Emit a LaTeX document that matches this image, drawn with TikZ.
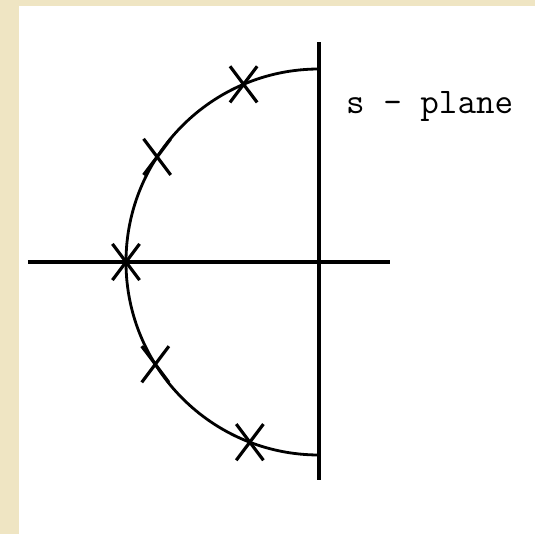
\documentclass[tikz,border=0pt]{standalone}
\usepackage{fontspec}
\definecolor{PaperBeige}{HTML}{EFE5C3}
\usetikzlibrary{shapes.misc, positioning}

\begin{document}
\begin{tikzpicture}[
      pole/.style={draw, cross out, line width=1.8pt, inner sep=0pt,
         minimum width=0.48cm, minimum height=0.66cm}
   ]
   % Page: beige margin and white sheet
   \fill[PaperBeige] (-6.38,-5.44) rectangle (4.32,5.24);
   \fill[white] (-6.0,-5.44) rectangle (4.32,5.12);
   % Axis end points
   \coordinate (O) at (0,0);
   \coordinate (Wend) at (-5.82,0);
   \coordinate (Eend) at (1.42,0);
   \coordinate (Nend) at (0,4.4);
   \coordinate (Send) at (0,-4.36);
   % Axes
   \draw[line width=2pt] (Wend) -- (Eend);
   \draw[line width=2pt] (Send) -- (Nend);
   % Circle of poles (left half)
   \draw[line width=1.6pt] (0,3.86) arc[start angle=90, end angle=270, radius=3.86];
   % Poles
   \foreach \ang/\name in {113/p1, 147/p2, 180/p3, 212/p4, 249/p5}
      \node[pole] (\name) at (\ang:3.86) {};
   % Label
   \node[font=\ttfamily\fontsize{20.5}{22}\selectfont, anchor=base west]
      (plane) at (0.42,2.96) {s - plane};
\end{tikzpicture}
\end{document}
